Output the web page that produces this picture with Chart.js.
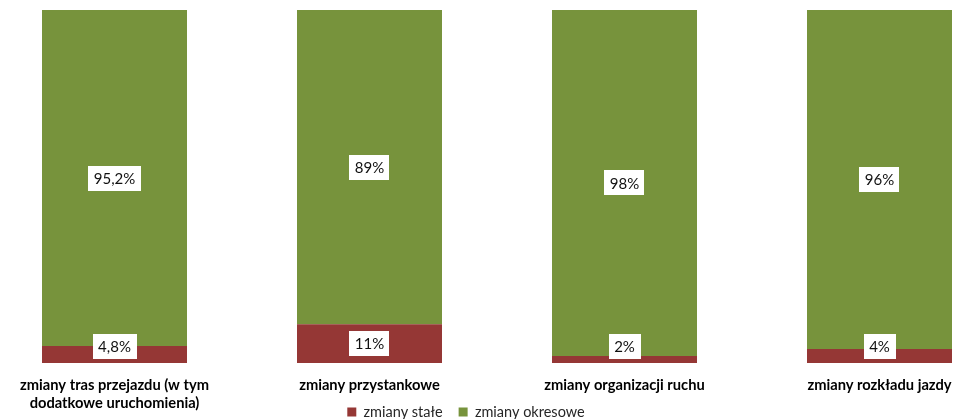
<!DOCTYPE html>
<html>
<head>
<meta charset="utf-8">
<script src="https://cdn.jsdelivr.net/npm/chart.js@4/dist/chart.umd.min.js"></script>
<style>
  html, body { margin: 0; padding: 0; background: #fff; overflow: hidden; }
  #wrap { position: relative; width: 955px; height: 419px; overflow: hidden; }
  #c { position: absolute; left: -13px; top: 0; }
</style>
</head>
<body>
<div id="wrap"><canvas id="c" width="1020" height="419"></canvas></div>
<script>
const categories = [
  ["zmiany tras przejazdu (w tym", "dodatkowe uruchomienia)"],
  "zmiany przystankowe",
  "zmiany organizacji ruchu",
  "zmiany rozkładu jazdy"
];
const seriesNames = ["zmiany stałe", "zmiany okresowe"];
const stale = [4.8, 11, 2, 4];
const okresowe = [95.2, 89, 98, 96];

const fmt = v => String(v).replace('.', ',') + '%';

const labelPlugin = {
  id: 'barLabels',
  afterDatasetsDraw(chart) {
    const ctx = chart.ctx;
    const area = chart.chartArea;
    ctx.save();
    ctx.font = '15px Lato';
    ctx.textAlign = 'center';
    ctx.textBaseline = 'middle';
    chart.data.datasets.forEach((ds, di) => {
      const meta = chart.getDatasetMeta(di);
      meta.data.forEach((bar, i) => {
        const text = fmt(ds.data[i]);
        const p = bar.getProps(['x', 'y', 'base'], true);
        const h = 25;
        let cy = (p.y + p.base) / 2;
        cy = Math.min(cy, area.bottom - 4 - h / 2);
        const w = ctx.measureText(text).width + 11;
        ctx.fillStyle = '#ffffff';
        ctx.fillRect(Math.round(p.x - w / 2), Math.round(cy - h / 2), Math.round(w), h);
        ctx.fillStyle = '#111';
        ctx.fillText(text, p.x, cy + 1);
      });
    });
    ctx.restore();
  }
};

const legendPlace = {
  id: 'legendPlace',
  afterLayout(chart) {
    const lg = chart.legend;
    if (!lg) return;
    lg.left -= 31; lg.right -= 31;
    const pad = lg.options.labels.padding;
    const fs = lg.options.labels.font.size;
    const T = 412 - pad - fs / 2;
    lg.top = T; lg.bottom = 419; lg.height = 419 - T;
  }
};

new Chart(document.getElementById('c'), {
  type: 'bar',
  data: {
    labels: categories,
    datasets: [
      { label: seriesNames[0], data: stale, backgroundColor: '#953735', borderWidth: 0 },
      { label: seriesNames[1], data: okresowe, backgroundColor: '#77933C', borderWidth: 0 }
    ]
  },
  options: {
    responsive: false,
    animation: false,
    devicePixelRatio: 1,
    layout: { padding: { left: 0, right: 0, top: 10, bottom: 0 } },
    categoryPercentage: 1,
    barPercentage: 0.5686,
    scales: {
      x: {
        stacked: true,
        grid: { display: false, drawTicks: false },
        border: { display: false },
        afterFit(scale) { scale.height = 55; },
        ticks: {
          color: '#000',
          padding: 13,
          maxRotation: 0,
          autoSkip: false,
          font: { family: 'Lato', weight: 'bold', size: 14.7, lineHeight: 1.22 }
        }
      },
      y: {
        stacked: true,
        display: false,
        min: 0,
        max: 100
      }
    },
    plugins: {
      legend: {
        position: 'bottom',
        maxHeight: 1,
        labels: {
          color: '#262626',
          boxWidth: 9,
          boxHeight: 9,
          padding: 16,
          font: { family: 'Lato', size: 14.5 }
        }
      },
      tooltip: { enabled: false }
    }
  },
  plugins: [labelPlugin, legendPlace]
});
</script>
</body>
</html>
